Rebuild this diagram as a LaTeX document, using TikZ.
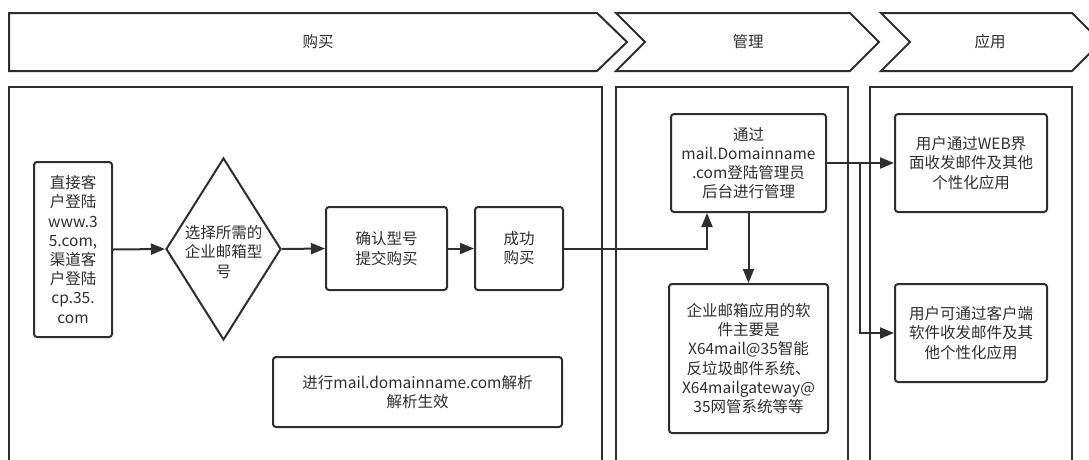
\documentclass[tikz,border=0pt]{standalone}
\usepackage{fontspec}
\setmainfont{Noto Sans CJK SC}
\usetikzlibrary{shapes.geometric,arrows.meta}
\definecolor{ink}{HTML}{2E2E2E}
\begin{document}
\begin{tikzpicture}[x=1pt,y=-1pt,
  line width=2pt, draw=ink,
  every node/.style={text=ink, font=\fontsize{15.5}{19.2}\selectfont, align=center, inner sep=0pt},
  box/.style={draw=ink, rounded corners=3pt, line width=2pt},
  arr/.style={draw=ink, line width=2pt, -{Triangle[length=14pt,width=11pt]}},
  lane/.style={draw=ink, line width=2pt},
]
\useasboundingbox (0,0) rectangle (1089,459);
% chevrons
\draw[lane] (9,13) -- (597,13) -- (627,42) -- (597,71) -- (9,71) -- cycle;
\draw[lane] (616,13) -- (850,13) -- (879,42) -- (850,71) -- (616,71) -- (645,42) -- cycle;
\draw[lane] (881,13) -- (1072,13) -- (1101,42) -- (1072,71) -- (881,71) -- (910,42) -- cycle;
\node (h1) at (318,42) {购买};
\node (h2) at (748,42) {管理};
\node (h3) at (990,42) {应用};
% panels
\draw[lane] (9,87) rectangle (602,475);
\draw[lane] (616,87) rectangle (848,475);
\draw[lane] (870,87) rectangle (1072,475);
% nodes
\node[box, minimum width=78pt, minimum height=175pt] (a) at (73,249.5)
  {直接客\\户登陆\\www.3\\5.com,\\渠道客\\户登陆\\cp.35.\\com};
\node[draw=ink, diamond, line width=2pt, minimum width=115pt, minimum height=182pt] (dia) at (223.5,249) {};
\node (diat) at (223.5,252) {选择所需的\\企业邮箱型\\号};
\node[box, minimum width=121pt, minimum height=83pt] (confirm) at (386.5,248.5) {确认型号\\提交购买};
\node[box, minimum width=88pt, minimum height=83pt] (success) at (519,248.5) {成功\\购买};
\node[box, minimum width=289pt, minimum height=70pt] (dns) at (417.5,392) {进行mail.domainname.com解析\\解析生效};
\node[box, minimum width=155pt, minimum height=98pt] (login) at (748.5,163) {通过\\mail.Domainname\\.com登陆管理员\\后台进行管理};
\node[box, minimum width=159pt, minimum height=149pt] (soft) at (748.5,358.5) {企业邮箱应用的软\\件主要是\\X64mail@35智能\\反垃圾邮件系统、\\X64mailgateway@\\35网管系统等等};
\node[box, minimum width=152pt, minimum height=98pt] (web) at (971,163) {用户通过WEB界\\面收发邮件及其他\\个性化应用};
\node[box, minimum width=152pt, minimum height=98pt] (client) at (971,333) {用户可通过客户端\\软件收发邮件及其\\他个性化应用};
% connectors
\draw[arr] (a.east) -- (dia.west);
\draw[arr] (dia.east) -- (confirm.west);
\draw[arr] (confirm.east) -- (success.west);
\draw[arr] (success.east) -| ([xshift=-41.5pt]login.south);
\draw[arr] (login.south) -- (soft.north);
\draw[arr] (login.east) -- (web.west);
\coordinate (br) at (860,163);
\draw[arr] (br) |- (client.west);
\end{tikzpicture}
\end{document}
